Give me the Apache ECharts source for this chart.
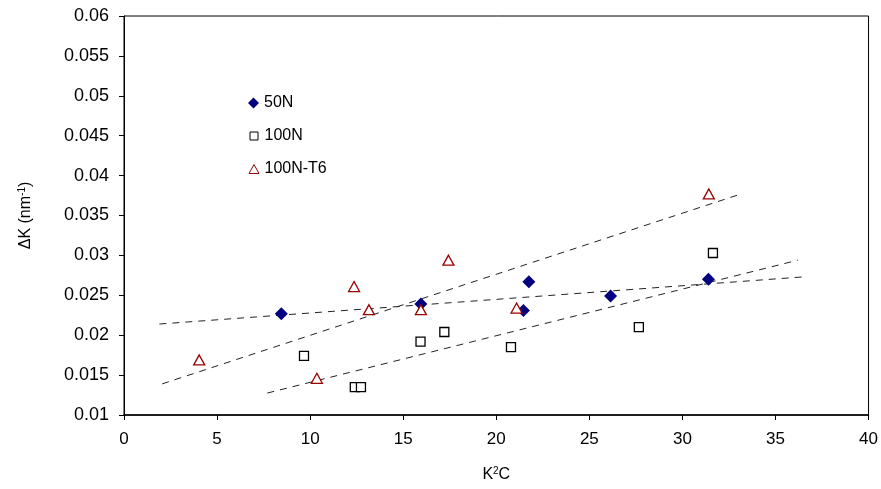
<!DOCTYPE html>
<html>
<head>
<meta charset="utf-8">
<script src="https://cdn.jsdelivr.net/npm/echarts@6/dist/echarts.min.js"></script>
<style>
  html, body { margin: 0; padding: 0; background: #fff; }
  #chart { width: 881px; height: 489px; }
</style>
</head>
<body>
<div id="chart"></div>
<script>
// measured points [K^2C, dK]
var n50 = [[8.45, 0.0227], [15.95, 0.0239], [21.75, 0.0267], [21.46, 0.0231], [26.14, 0.0249], [31.4, 0.0270]];
var n100 = [[9.67, 0.0174], [12.4, 0.0135], [12.73, 0.0135], [15.93, 0.0192], [17.21, 0.0204], [20.79, 0.0185], [27.66, 0.0210], [31.64, 0.0303]];
var n100t6 = [[4.04, 0.0169], [10.36, 0.0146], [12.36, 0.0261], [13.16, 0.0232], [15.95, 0.0232], [17.43, 0.0294], [21.09, 0.0234], [31.42, 0.0377]];

// fitted trend lines (end points)
var fit50 = [[1.9, 0.0214], [36.45, 0.0273]];
var fit100 = [[7.7, 0.01275], [36.2, 0.0294]];
var fitT6 = [[2.05, 0.0139], [33.15, 0.0377]];

var xTicks = [0, 5, 10, 15, 20, 25, 30, 35, 40];
var font = "'Liberation Sans', Arial, sans-serif";

var chart = echarts.init(document.getElementById('chart'));

function trend(data) {
  return {
    type: 'line',
    data: data,
    symbol: 'none',
    silent: true,
    z: 1,
    lineStyle: { color: '#222', width: 1, type: [7, 6] }
  };
}

// one legend per entry so each icon gets its own size
function legendItem(name, top, w, h, style) {
  return {
    data: [{ name: name, itemStyle: style }],
    left: 243 + (11 - w) / 2, top: top,
    itemWidth: w, itemHeight: h,
    textStyle: { fontFamily: font, fontSize: 16, color: '#000', padding: [0, 0, 0, (11 - w) / 2] }
  };
}

var option = {
  animation: false,
  textStyle: { fontFamily: font },
  grid: {
    left: 124, right: 11, top: 16, bottom: 74,
    show: true, borderColor: '#000', borderWidth: 1
  },
  legend: [
    legendItem('50N', 90, 11, 11, { color: '#000080', opacity: 1 }),
    legendItem('100N', 123, 8, 8, { color: '#fff', borderColor: '#000', borderWidth: 1, opacity: 1 }),
    legendItem('100N-T6', 156, 10, 9, { color: '#fff', borderColor: '#990000', borderWidth: 1, opacity: 1 })
  ],
  xAxis: {
    type: 'value',
    min: 0, max: 40, interval: 5,
    name: '{a|K}{s|2}{a|C}',
    nameLocation: 'middle',
    nameGap: 51,
    nameTextStyle: {
      rich: {
        a: { fontFamily: font, fontSize: 16, color: '#000' },
        s: { fontFamily: font, fontSize: 10, color: '#000', padding: [0, 0, 8, 0] }
      }
    },
    axisLine: { lineStyle: { color: '#000', width: 1.5 } },
    axisTick: { show: true, inside: false, length: 5, lineStyle: { color: '#000' } },
    axisLabel: {
      margin: 16, fontFamily: font, fontSize: 17, color: '#000',
      formatter: function (v) { return xTicks.indexOf(v) >= 0 ? String(v) : ''; }
    },
    splitLine: { show: false }
  },
  yAxis: {
    type: 'value',
    min: 0.01, max: 0.06, interval: 0.005,
    name: '{a|ΔK (nm}{s|-1}{a|)}',
    nameLocation: 'middle',
    nameGap: 89,
    nameTextStyle: {
      rich: {
        a: { fontFamily: font, fontSize: 16, color: '#000' },
        s: { fontFamily: font, fontSize: 10, color: '#000', padding: [0, 0, 8, 0] }
      }
    },
    axisLine: { show: true, lineStyle: { color: '#000', width: 1 } },
    axisTick: { show: true, inside: false, length: 5, lineStyle: { color: '#000' } },
    axisLabel: {
      margin: 15, fontFamily: font, fontSize: 18, color: '#000',
      formatter: function (v) { return String(parseFloat(v.toFixed(3))); }
    },
    splitLine: { show: false }
  },
  series: [
    trend(fit50),
    trend(fit100),
    trend(fitT6),
    {
      name: '50N',
      type: 'scatter',
      data: n50,
      symbol: 'diamond',
      symbolSize: 13,
      z: 3,
      itemStyle: { color: '#000080', opacity: 1 }
    },
    {
      name: '100N',
      type: 'scatter',
      data: n100,
      symbol: 'rect',
      symbolSize: 9,
      z: 3,
      itemStyle: { color: '#fff', borderColor: '#000', borderWidth: 1.3, opacity: 1 }
    },
    {
      name: '100N-T6',
      type: 'scatter',
      data: n100t6,
      symbol: 'triangle',
      symbolSize: [11, 10],
      z: 4,
      itemStyle: { color: '#fff', borderColor: '#990000', borderWidth: 1.3, opacity: 1 }
    }
  ]
};

chart.setOption(option);
</script>
</body>
</html>
